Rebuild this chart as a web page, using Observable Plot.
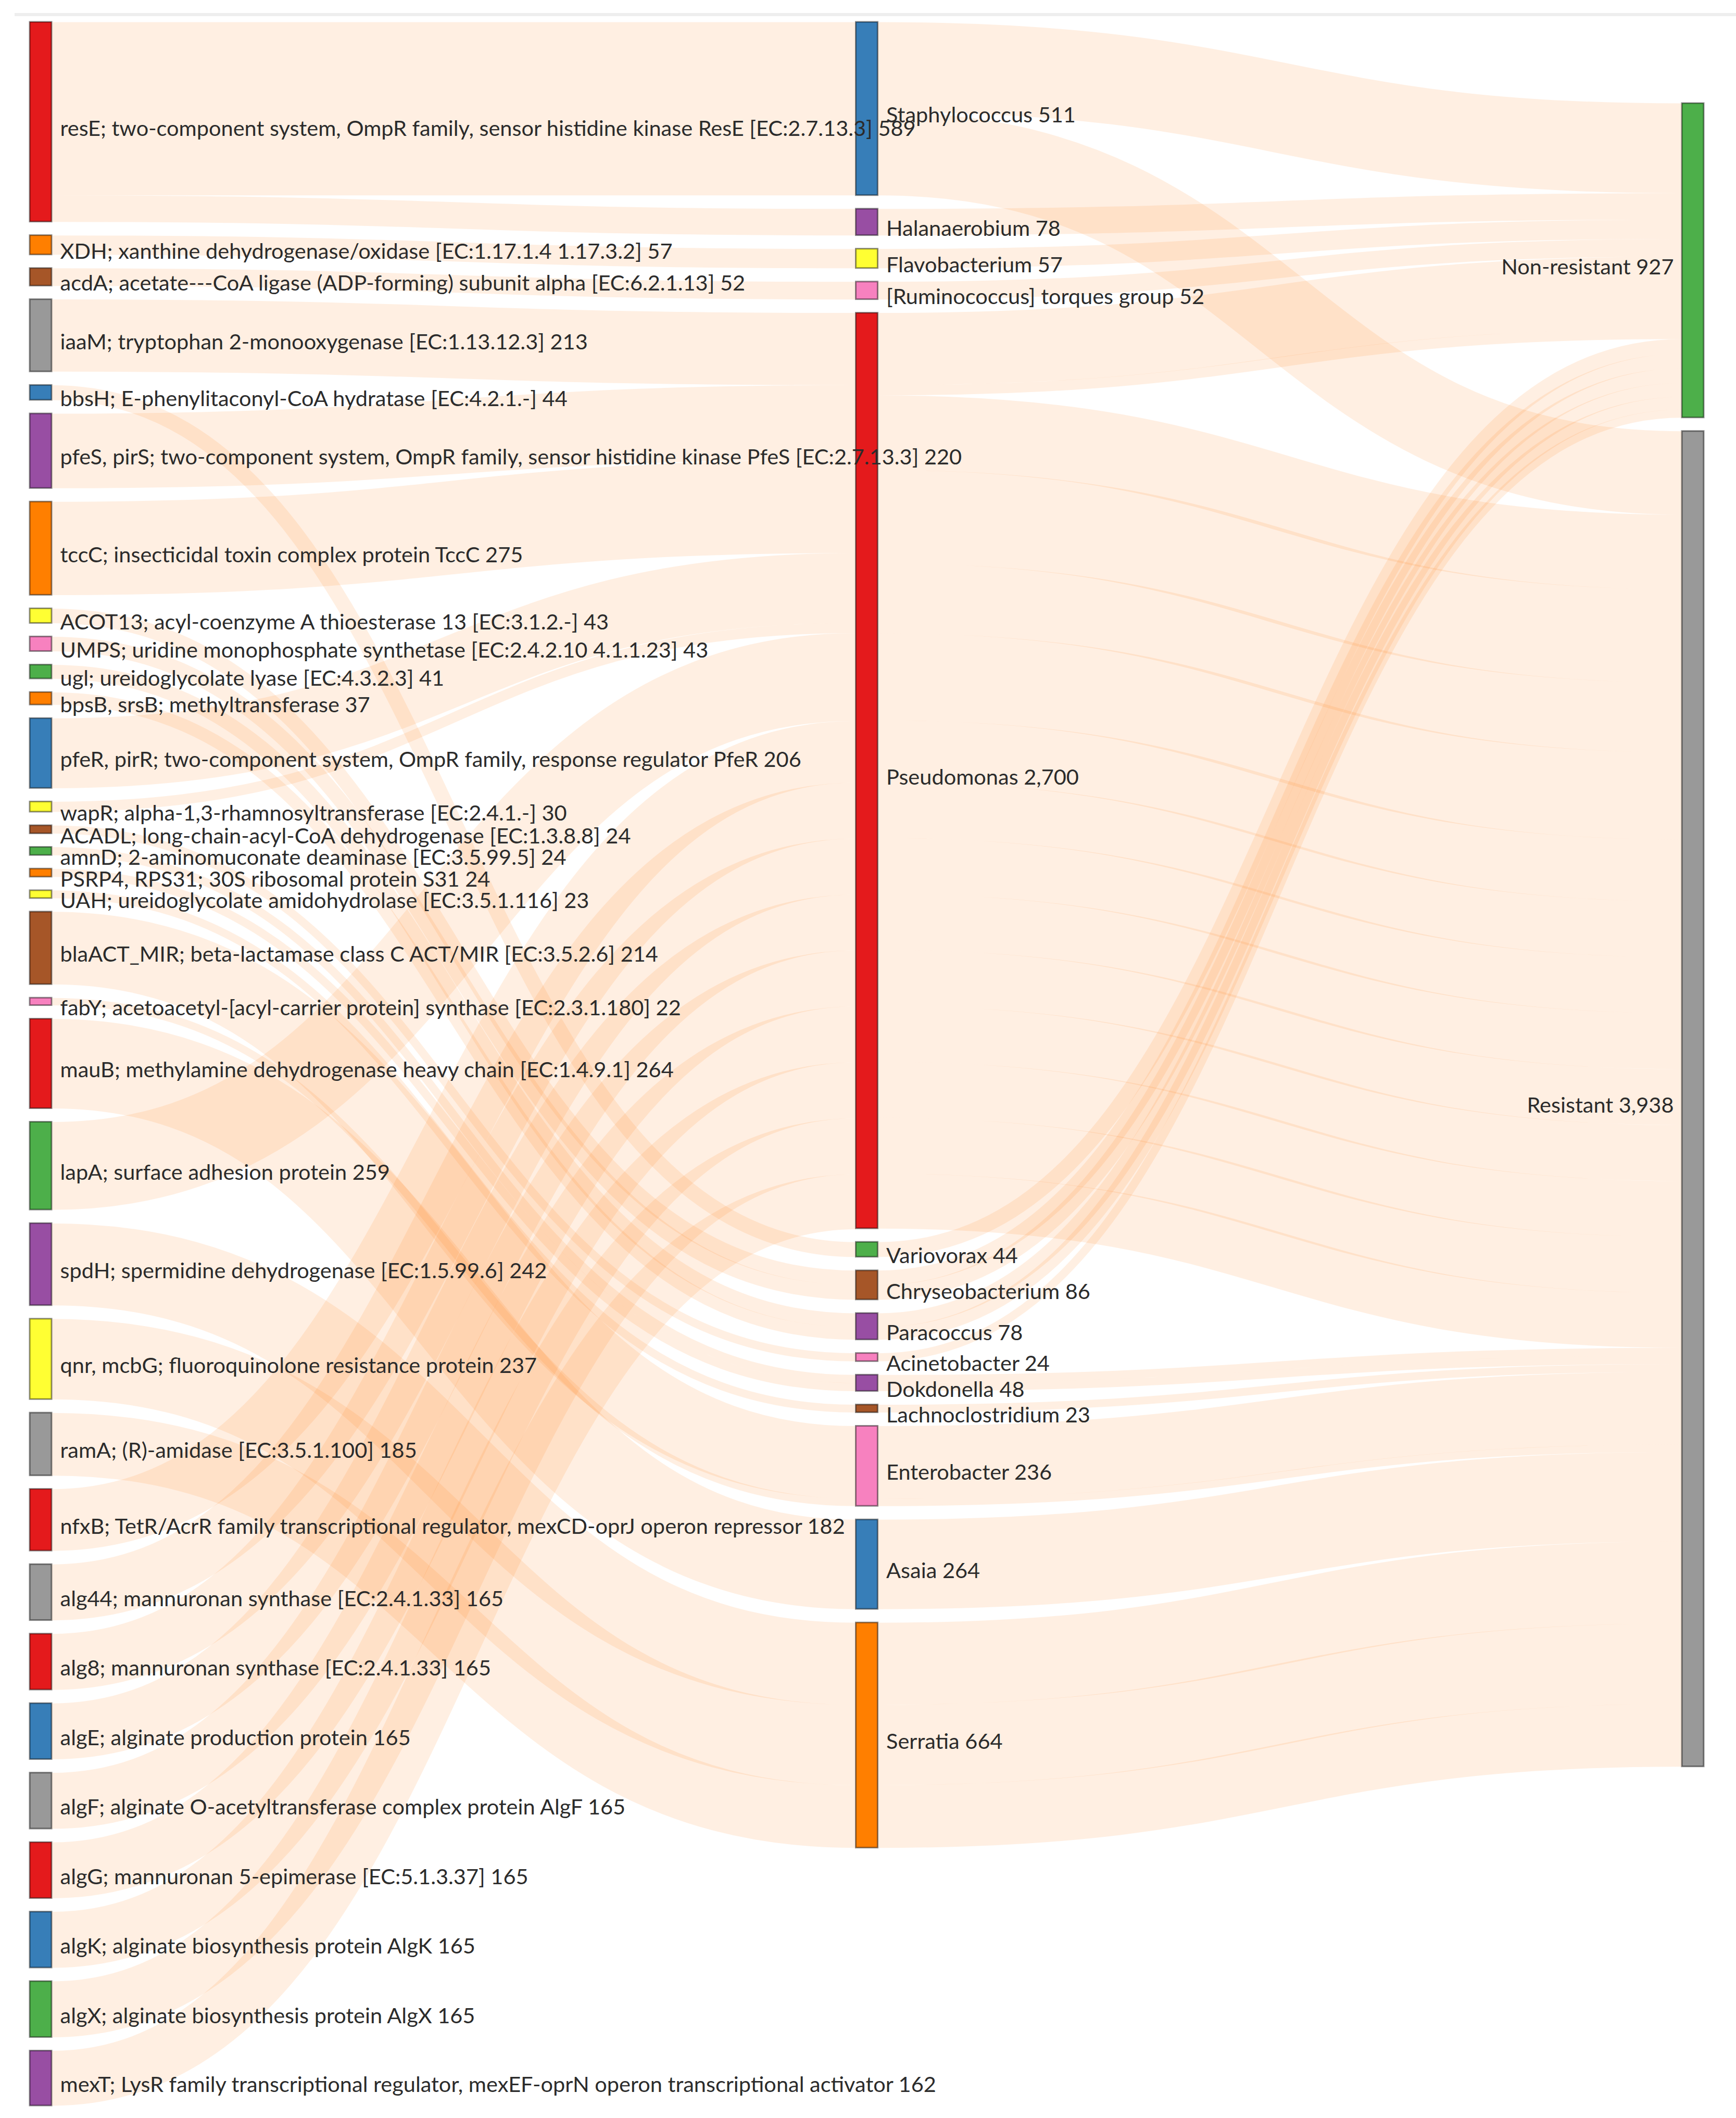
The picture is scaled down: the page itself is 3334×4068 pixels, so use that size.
<!DOCTYPE html>
<html>
<head>
<meta charset="utf-8">
<script src="https://cdn.jsdelivr.net/npm/d3@7"></script>
<script src="https://cdn.jsdelivr.net/npm/@observablehq/plot@0.6"></script>
<style>
  body { margin: 0; background: #ffffff; }
  #topline { margin: 25px 0 0 28px; border-top: 6px solid #eeeeee; }
  #chart svg { display: block; }
</style>
</head>
<body>
<div id="topline"></div>
<div id="chart"></div>
<script>
// ---------------- data ----------------
const geneLabels = [
  "resE; two-component system, OmpR family, sensor histidine kinase ResE [EC:2.7.13.3]",
  "XDH; xanthine dehydrogenase/oxidase [EC:1.17.1.4 1.17.3.2]",
  "acdA; acetate---CoA ligase (ADP-forming) subunit alpha [EC:6.2.1.13]",
  "iaaM; tryptophan 2-monooxygenase [EC:1.13.12.3]",
  "bbsH; E-phenylitaconyl-CoA hydratase [EC:4.2.1.-]",
  "pfeS, pirS; two-component system, OmpR family, sensor histidine kinase PfeS [EC:2.7.13.3]",
  "tccC; insecticidal toxin complex protein TccC",
  "ACOT13; acyl-coenzyme A thioesterase 13 [EC:3.1.2.-]",
  "UMPS; uridine monophosphate synthetase [EC:2.4.2.10 4.1.1.23]",
  "ugl; ureidoglycolate lyase [EC:4.3.2.3]",
  "bpsB, srsB; methyltransferase",
  "pfeR, pirR; two-component system, OmpR family, response regulator PfeR",
  "wapR; alpha-1,3-rhamnosyltransferase [EC:2.4.1.-]",
  "ACADL; long-chain-acyl-CoA dehydrogenase [EC:1.3.8.8]",
  "amnD; 2-aminomuconate deaminase [EC:3.5.99.5]",
  "PSRP4, RPS31; 30S ribosomal protein S31",
  "UAH; ureidoglycolate amidohydrolase [EC:3.5.1.116]",
  "blaACT_MIR; beta-lactamase class C ACT/MIR [EC:3.5.2.6]",
  "fabY; acetoacetyl-[acyl-carrier protein] synthase [EC:2.3.1.180]",
  "mauB; methylamine dehydrogenase heavy chain [EC:1.4.9.1]",
  "lapA; surface adhesion protein",
  "spdH; spermidine dehydrogenase [EC:1.5.99.6]",
  "qnr, mcbG; fluoroquinolone resistance protein",
  "ramA; (R)-amidase [EC:3.5.1.100]",
  "nfxB; TetR/AcrR family transcriptional regulator, mexCD-oprJ operon repressor",
  "alg44; mannuronan synthase [EC:2.4.1.33]",
  "alg8; mannuronan synthase [EC:2.4.1.33]",
  "algE; alginate production protein",
  "algF; alginate O-acetyltransferase complex protein AlgF",
  "algG; mannuronan 5-epimerase [EC:5.1.3.37]",
  "algK; alginate biosynthesis protein AlgK",
  "algX; alginate biosynthesis protein AlgX",
  "mexT; LysR family transcriptional regulator, mexEF-oprN operon transcriptional activator"
];
const genusLabels = [
  "Staphylococcus", "Halanaerobium", "Flavobacterium", "[Ruminococcus] torques group",
  "Pseudomonas", "Variovorax", "Chryseobacterium", "Paracoccus", "Acinetobacter",
  "Dokdonella", "Lachnoclostridium", "Enterobacter", "Asaia", "Serratia"
];
const statusLabels = ["Non-resistant", "Resistant"];

// gene -> genus flows
const geneGenusLinks = [
  ["resE", "Staphylococcus", 511], ["resE", "Halanaerobium", 78],
  ["XDH", "Flavobacterium", 57], ["acdA", "[Ruminococcus] torques group", 52],
  ["iaaM", "Pseudomonas", 213], ["bbsH", "Variovorax", 44],
  ["pfeS, pirS", "Pseudomonas", 220], ["tccC", "Pseudomonas", 275],
  ["ACOT13", "Chryseobacterium", 43], ["UMPS", "Chryseobacterium", 43],
  ["ugl", "Paracoccus", 41], ["bpsB, srsB", "Paracoccus", 37],
  ["pfeR, pirR", "Pseudomonas", 206], ["wapR", "Pseudomonas", 30],
  ["ACADL", "Acinetobacter", 24], ["amnD", "Dokdonella", 24],
  ["PSRP4, RPS31", "Dokdonella", 24], ["UAH", "Lachnoclostridium", 23],
  ["blaACT_MIR", "Enterobacter", 214], ["fabY", "Enterobacter", 22],
  ["mauB", "Asaia", 264], ["lapA", "Pseudomonas", 259],
  ["spdH", "Serratia", 242], ["qnr, mcbG", "Serratia", 237], ["ramA", "Serratia", 185],
  ["nfxB", "Pseudomonas", 182],
  ["alg44", "Pseudomonas", 165], ["alg8", "Pseudomonas", 165], ["algE", "Pseudomonas", 165],
  ["algF", "Pseudomonas", 165], ["algG", "Pseudomonas", 165], ["algK", "Pseudomonas", 165],
  ["algX", "Pseudomonas", 165], ["mexT", "Pseudomonas", 162]
];

// genus -> resistance flows
const genusStatusLinks = [
  ["Staphylococcus", "Non-resistant", 265], ["Staphylococcus", "Resistant", 246],
  ["Halanaerobium", "Non-resistant", 78], ["Flavobacterium", "Non-resistant", 57],
  ["[Ruminococcus] torques group", "Non-resistant", 52],
  ["Pseudomonas", "Non-resistant", 213], ["Pseudomonas", "Resistant", 220],
  ["Pseudomonas", "Resistant", 275], ["Pseudomonas", "Resistant", 206],
  ["Pseudomonas", "Non-resistant", 30], ["Pseudomonas", "Resistant", 257],
  ["Pseudomonas", "Resistant", 182],
  ["Pseudomonas", "Resistant", 165], ["Pseudomonas", "Resistant", 165], ["Pseudomonas", "Resistant", 165],
  ["Pseudomonas", "Resistant", 165], ["Pseudomonas", "Resistant", 165], ["Pseudomonas", "Resistant", 165],
  ["Pseudomonas", "Resistant", 165], ["Pseudomonas", "Resistant", 162],
  ["Variovorax", "Non-resistant", 44],
  ["Chryseobacterium", "Non-resistant", 43], ["Chryseobacterium", "Non-resistant", 43],
  ["Paracoccus", "Non-resistant", 41], ["Paracoccus", "Non-resistant", 37],
  ["Acinetobacter", "Non-resistant", 24],
  ["Dokdonella", "Resistant", 24], ["Dokdonella", "Resistant", 24],
  ["Lachnoclostridium", "Resistant", 23],
  ["Enterobacter", "Resistant", 214], ["Enterobacter", "Resistant", 22],
  ["Asaia", "Resistant", 264],
  ["Serratia", "Resistant", 242], ["Serratia", "Resistant", 237], ["Serratia", "Resistant", 185]
];

// node palettes (d3 Set1 hues)
const red = "#e41a1c", blue = "#377eb8", green = "#4daf4a", purple = "#984ea3", orange = "#ff7f00",
      yellow = "#ffff33", brown = "#a65628", pink = "#f781bf", gray = "#999999";
const geneColors = [red, orange, brown, gray, blue, purple, orange, yellow, pink, green, orange, blue,
  yellow, brown, green, orange, yellow, brown, pink, red, green, purple, yellow, gray, red,
  gray, red, blue, gray, red, blue, green, purple];
const genusColors = [blue, purple, yellow, pink, red, green, brown, purple, pink, purple, brown, pink, blue, orange];
const statusColors = [green, gray];

// ---------------- layout ----------------
const W = 3334, H = 4037;
const layoutTop = 11, layoutBottom = 4013, layoutLeft = 57, layoutRight = 3272;
const nodeWidth = 42, nodePad = 26;

const nodes = [], byKey = new Map();
function addColumn(labels, colors, col, keyFn) {
  return labels.map((label, i) => {
    const node = {key: keyFn(label), label, color: colors[i], col, sourceLinks: [], targetLinks: []};
    byKey.set(node.key, node);
    nodes.push(node);
    return node;
  });
}
const columns = [
  addColumn(geneLabels, geneColors, 0, l => l.split(";")[0]),
  addColumn(genusLabels, genusColors, 1, l => l),
  addColumn(statusLabels, statusColors, 2, l => l)
];
const links = [...geneGenusLinks, ...genusStatusLinks].map(([s, t, v], index) => {
  const link = {source: byKey.get(s), target: byKey.get(t), value: v, index};
  link.source.sourceLinks.push(link);
  link.target.targetLinks.push(link);
  return link;
});
for (const n of nodes) {
  n.value = n.sourceLinks.length ? d3.sum(n.sourceLinks, l => l.value) : d3.sum(n.targetLinks, l => l.value);
}
const ky = d3.min(columns, c => (layoutBottom - layoutTop - (c.length - 1) * nodePad) / d3.sum(c, n => n.value));
const colStep = (layoutRight - layoutLeft - nodeWidth) / (columns.length - 1);
columns.forEach((c, ci) => {
  let y = layoutTop;
  for (const n of c) {
    n.x0 = layoutLeft + ci * colStep;
    n.x1 = n.x0 + nodeWidth;
    n.y0 = y;
    n.y1 = y + n.value * ky;
    y = n.y1 + nodePad;
  }
});
// last column centred on the extent of the middle column
{
  const mid = columns[1], last = columns[2];
  const cMid = (mid[0].y0 + mid[mid.length - 1].y1) / 2;
  const cLast = (last[0].y0 + last[last.length - 1].y1) / 2;
  for (const n of last) { n.y0 += cMid - cLast; n.y1 += cMid - cLast; }
}
for (const l of links) l.width = l.value * ky;
for (const n of nodes) {
  n.sourceLinks.sort((a, b) => (a.target.y0 - b.target.y0) || (a.index - b.index));
  n.targetLinks.sort((a, b) => (a.source.y0 - b.source.y0) || (a.index - b.index));
  let y = n.y0;
  for (const l of n.sourceLinks) { l.y0 = y + l.width / 2; y += l.width; }
  y = n.y0;
  for (const l of n.targetLinks) { l.y1 = y + l.width / 2; y += l.width; }
}
const linkData = links.map(l => ({x1: l.source.x1, y1: l.y0, x2: l.target.x0, y2: l.y1, w: l.width}));
const fmt = d3.format(",");
for (const n of nodes) {
  n.text = `${n.label} ${fmt(n.value)}`;
  n.ym = (n.y0 + n.y1) / 2;
}
const leftLabeled = nodes.filter(n => n.x0 < W / 2);
const rightLabeled = nodes.filter(n => n.x0 >= W / 2);

// ---------------- chart ----------------
const chart = Plot.plot({
  width: W,
  height: H,
  margin: 0,
  x: {domain: [0, W], range: [0, W], axis: null},
  y: {domain: [0, H], range: [0, H], axis: null},
  color: {domain: nodes.map(n => n.key), range: nodes.map(n => n.color)},
  style: {fontFamily: "Lato, 'Open Sans', sans-serif", background: "#ffffff"},
  marks: [
    Plot.link(linkData, {
      x1: "x1", y1: "y1", x2: "x2", y2: "y2",
      curve: "bump-x",
      stroke: "#ff7f0e",
      strokeOpacity: 0.12,
      strokeWidth: "w"
    }),
    Plot.rect(nodes, {
      x1: "x0", x2: "x1", y1: "y0", y2: "y1",
      fill: "key",
      stroke: "#000000",
      strokeOpacity: 0.45,
      strokeWidth: 3
    }),
    Plot.text(leftLabeled, {
      x: n => n.x1 + 16, y: "ym", text: "text",
      textAnchor: "start", dy: 13, fontSize: 41.5, fill: "#2b2b2b"
    }),
    Plot.text(rightLabeled, {
      x: n => n.x0 - 16, y: "ym", text: "text",
      textAnchor: "end", dy: 13, fontSize: 41.5, fill: "#2b2b2b"
    })
  ]
});
document.getElementById("chart").appendChild(chart);
</script>
</body>
</html>
